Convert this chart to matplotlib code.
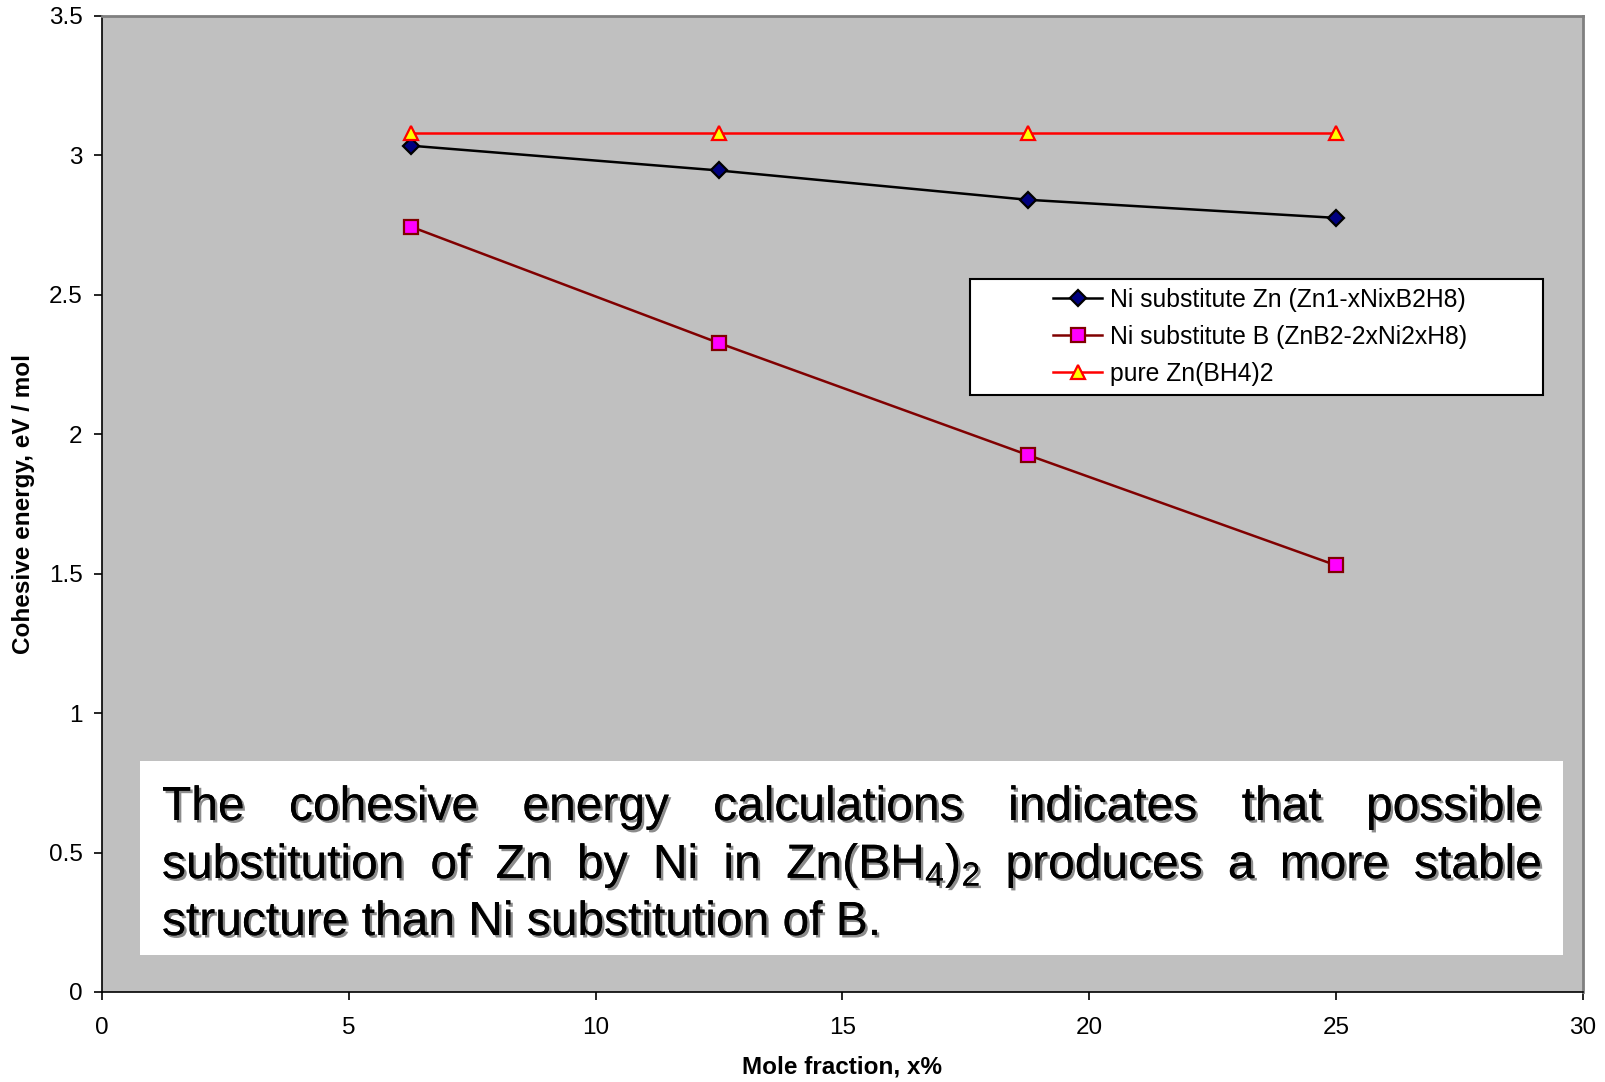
import matplotlib
matplotlib.use("Agg")
import matplotlib.pyplot as plt
import matplotlib.patheffects as pe
from matplotlib.patches import Rectangle

plt.rcParams["font.family"] = ["Liberation Sans", "DejaVu Sans"]
plt.rcParams["mathtext.fontset"] = "custom"
plt.rcParams["mathtext.rm"] = "Liberation Sans"

# mole fraction of Ni, x%
mole_frac = [6.25, 12.5, 18.75, 25.0]
# cohesive energy, eV / mol
e_sub_zn = [3.035, 2.946, 2.841, 2.776]
e_sub_b = [2.745, 2.327, 1.926, 1.530]
e_pure = [3.08, 3.08, 3.08, 3.08]

labels = ["Ni substitute Zn (Zn1-xNixB2H8)",
          "Ni substitute B (ZnB2-2xNi2xH8)",
          "pure Zn(BH4)2"]

note_lines = [
    ["The", "cohesive", "energy", "calculations", "indicates", "that", "possible"],
    ["substitution", "of", "Zn", "by", "Ni", "in", r"Zn(BH$_\mathregular{4}$)$_\mathregular{2}$",
     "produces", "a", "more", "stable"],
    ["structure than Ni substitution of B."],
]

W, H = 1606, 1082
fig = plt.figure(figsize=(W / 100, H / 100), dpi=100)
ax = fig.add_axes([102 / W, 1 - 992 / H, (1583 - 102) / W, (992 - 16) / H])
ax.set_facecolor("#c0c0c0")

ax.plot(mole_frac, e_sub_zn, color="black", lw=1.8, marker="D", ms=8.5,
        mfc="#000080", mec="black", mew=1.6, label=labels[0], zorder=4)
ax.plot(mole_frac, e_sub_b, color="#800000", lw=1.8, marker="s", ms=9.5,
        mfc="#ff00ff", mec="#800000", mew=1.6, label=labels[1], zorder=4)
ax.plot(mole_frac, e_pure, color="#ff0000", lw=1.8, marker="^", ms=10,
        mfc="#ffff00", mec="#ff0000", mew=1.6, label=labels[2], zorder=4)

ax.set_xlim(0, 30)
ax.set_ylim(0, 3.5)
ax.set_xticks(range(0, 31, 5))
ax.set_yticks([0, 0.5, 1, 1.5, 2, 2.5, 3, 3.5])
ax.set_yticklabels(["0", "0.5", "1", "1.5", "2", "2.5", "3", "3.5"])
ax.tick_params(axis="both", direction="out", length=6, width=1.2,
               labelsize=17.5, colors="black")
ax.tick_params(axis="x", pad=12)
ax.tick_params(axis="y", pad=8)
for s in ("top", "right"):
    ax.spines[s].set_color("#808080")
    ax.spines[s].set_linewidth(2)
for s in ("left", "bottom"):
    ax.spines[s].set_color("black")
    ax.spines[s].set_linewidth(1.2)

ax.set_xlabel("Mole fraction, x%", fontsize=17.5, fontweight="bold", labelpad=12)
ax.set_ylabel("Cohesive energy, eV / mol", fontsize=17.5, fontweight="bold", labelpad=10)

# legend box
ax.add_patch(Rectangle((0.586, 0.612), 0.387, 0.1185, transform=ax.transAxes,
                       facecolor="white", edgecolor="black", lw=1.5, zorder=5))
leg = ax.legend(loc="upper left", bbox_to_anchor=(0.642, 0.7213), frameon=False,
                fontsize=17.8, handlelength=2.0, handletextpad=0.3,
                labelspacing=0.52, borderaxespad=0, borderpad=0)
leg.set_zorder(6)

# text box with the conclusion
ax.add_patch(Rectangle((0.77, 0.133), 29.6 - 0.77, 0.828 - 0.133,
                       facecolor="white", edgecolor="none", zorder=5))

shadow = [pe.withSimplePatchShadow(offset=(1.8, -1.8), shadow_rgbFace="#707070", alpha=0.8),
          pe.Normal()]
x_left, x_right = 162, 1542
baselines = [820, 878, 935]
fig.canvas.draw()
renderer = fig.canvas.get_renderer()
for words, base in zip(note_lines, baselines):
    texts = [fig.text(0, 1 - base / H, w, fontsize=34.5, va="baseline", ha="left",
                      path_effects=shadow, zorder=10) for w in words]
    widths = [t.get_window_extent(renderer).width for t in texts]
    if len(words) > 1:
        gap = (x_right - x_left - sum(widths)) / (len(words) - 1)
    else:
        gap = 0
    x = x_left
    for t, w in zip(texts, widths):
        t.set_x(x / W)
        x += w + gap

fig.savefig("out.png", dpi=100)
